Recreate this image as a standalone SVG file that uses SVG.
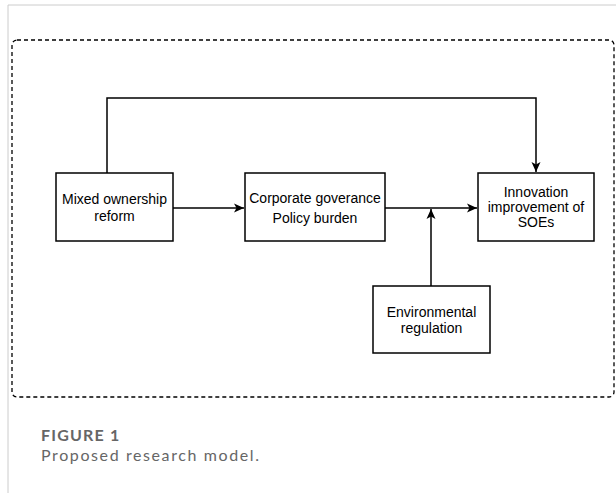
<svg xmlns="http://www.w3.org/2000/svg" width="616" height="493" viewBox="0 0 616 493">
<style>
.box{fill:#fff;stroke:#000;stroke-width:1.5}
.lbl{font-family:"Liberation Sans",Arial,sans-serif;font-size:14px;fill:#000;text-anchor:middle}
.edge{fill:none;stroke:#000;stroke-width:1.5}
.cap{font-family:"Lato","Open Sans",sans-serif;fill:#666;font-size:16px}
</style>
<defs>
<marker id="ah" markerWidth="12" markerHeight="12" refX="10" refY="6" orient="auto" markerUnits="userSpaceOnUse">
<path d="M0,1.5 L10,6 L0,10.5 L2.5,6 Z" fill="#000"/>
</marker>
</defs>
<rect width="616" height="493" fill="#fff"/>
<path d="M8,493 V5 H616" fill="none" stroke="#cccccc" stroke-width="1"/>
<rect x="12" y="40" width="602" height="357" rx="5" fill="none" stroke="#000" stroke-width="1.3" stroke-dasharray="4,3"/>
<g id="connectors">
<path class="edge" d="M107,173 V98 H536 V172" marker-end="url(#ah)"/>
<path class="edge" d="M173,208 H244" marker-end="url(#ah)"/>
<path class="edge" d="M385,208 H477" marker-end="url(#ah)"/>
<path class="edge" d="M431,286 V209" marker-end="url(#ah)"/>
</g>
<g id="mixed">
<rect class="box" x="56" y="173" width="117" height="68"/>
<text class="lbl" x="114.5" y="204">Mixed ownership</text>
<text class="lbl" x="114.5" y="221">reform</text>
</g>
<g id="corporate">
<rect class="box" x="245" y="173" width="140" height="68"/>
<text class="lbl" x="315" y="203">Corporate goverance</text>
<text class="lbl" x="315" y="223">Policy burden</text>
</g>
<g id="innovation">
<rect class="box" x="478" y="173" width="116" height="68"/>
<text class="lbl" x="536" y="197">Innovation</text>
<text class="lbl" x="536" y="212">improvement of</text>
<text class="lbl" x="536" y="227">SOEs</text>
</g>
<g id="environmental">
<rect class="box" x="373" y="286" width="117" height="67"/>
<text class="lbl" x="431.5" y="317">Environmental</text>
<text class="lbl" x="431.5" y="333">regulation</text>
</g>
<text class="cap" x="41" y="441" font-weight="bold" letter-spacing="1.2">FIGURE 1</text>
<text class="cap" x="41" y="461" letter-spacing="1.6" fill="#777">Proposed research model.</text>
</svg>
